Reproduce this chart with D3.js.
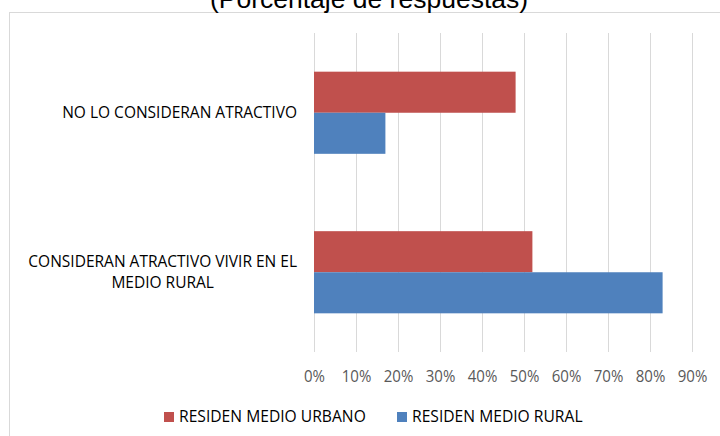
<!DOCTYPE html>
<html>
<head>
<meta charset="utf-8">
<script src="https://cdn.jsdelivr.net/npm/d3@7"></script>
<style>
  body { margin: 0; background: #fff; }
  svg { display: block; }
</style>
</head>
<body>
<svg></svg>
<script>
// data
var categories = ["NO LO CONSIDERAN ATRACTIVO", "CONSIDERAN ATRACTIVO VIVIR EN EL MEDIO RURAL"];
var labelLines = [["NO LO CONSIDERAN ATRACTIVO"], ["CONSIDERAN ATRACTIVO VIVIR EN EL", "MEDIO RURAL"]];
var seriesNames = ["RESIDEN MEDIO URBANO", "RESIDEN MEDIO RURAL"];
var urbano = [48, 52];
var rural = [17, 83];
var xTicks = [0, 10, 20, 30, 40, 50, 60, 70, 80, 90];
var title = "(Porcentaje de respuestas)";

var width = 720;
var height = 436;
var colors = ["#C0504D", "#4F81BD"];
var font = "'Open Sans', sans-serif";

var svg = d3.select("svg").attr("width", width).attr("height", height);

// chart frame (runs off the right and bottom edges)
svg.append("rect")
  .attr("x", 9.5).attr("y", 12.5)
  .attr("width", 740).attr("height", 460)
  .attr("fill", "#fff")
  .attr("stroke", "#d9d9d9");

svg.append("text")
  .attr("x", 369).attr("y", 8)
  .attr("text-anchor", "middle")
  .attr("font-family", "'Liberation Sans', Arial, sans-serif")
  .attr("font-size", 26.5)
  .attr("fill", "#000")
  .text(title);

var xScale = d3.scaleLinear().domain([0, 90]).range([314, 692]);
var yScale = d3.scaleBand().domain(categories).range([33, 352]).paddingInner(0.485).paddingOuter(0.2425);
var ySub = d3.scaleBand().domain(seriesNames).range([0, yScale.bandwidth()]);

// gridlines
svg.append("g")
  .selectAll("line")
  .data(xTicks)
  .enter()
  .append("line")
  .attr("x1", (d) => Math.round(xScale(d)) + 0.5)
  .attr("x2", (d) => Math.round(xScale(d)) + 0.5)
  .attr("y1", 33)
  .attr("y2", 352)
  .attr("stroke", "#d9d9d9");

// bars
var series = [urbano, rural];
series.forEach((vals, s) => {
  svg.append("g")
    .selectAll("rect")
    .data(vals)
    .enter()
    .append("rect")
    .attr("x", xScale(0))
    .attr("y", (d, i) => yScale(categories[i]) + ySub(seriesNames[s]))
    .attr("width", (d) => xScale(d) - xScale(0))
    .attr("height", ySub.bandwidth())
    .attr("fill", colors[s]);
});

// x axis labels
var xAxis = d3.axisBottom(xScale)
  .tickValues(xTicks)
  .tickSize(0)
  .tickPadding(0)
  .tickFormat((d) => d + "%");
var gx = svg.append("g")
  .attr("transform", "translate(0, 382)")
  .call(xAxis);
gx.select(".domain").remove();
gx.selectAll("text")
  .attr("dy", 0)
  .attr("y", 0)
  .attr("font-family", font)
  .attr("font-size", 16.5)
  .attr("fill", "#595959")
  .attr("transform", "scale(0.91,1)");

// category labels: block right-aligned, lines centred within block
categories.forEach((c, i) => {
  var lines = labelLines[i];
  var cy = yScale(c) + yScale.bandwidth() / 2;
  var g = svg.append("g");
  var texts = g.selectAll("text")
    .data(lines)
    .enter()
    .append("text")
    .attr("font-family", font)
    .attr("font-size", 15.5)
    .attr("fill", "#000")
    .attr("text-anchor", "middle")
    .attr("dy", "0.36em")
    .text((d) => d);
  var maxW = 0;
  texts.each(function () { maxW = Math.max(maxW, this.getComputedTextLength()); });
  var right = 297;
  texts
    .attr("x", right - maxW / 2)
    .attr("y", (d, j) => cy + (j - (lines.length - 1) / 2) * 21.3);
});

// legend
var lx = [164, 397];
seriesNames.forEach((n, i) => {
  var item = svg.append("g").attr("transform", "translate(" + lx[i] + ", 422)");
  item.append("rect")
    .attr("x", 0).attr("y", -10)
    .attr("width", 10).attr("height", 10)
    .attr("fill", colors[i]);
  item.append("text")
    .attr("x", 0).attr("y", 0)
    .attr("transform", "translate(15,0) scale(0.92,1)")
    .attr("font-family", font)
    .attr("font-size", 17)
    .attr("fill", "#000")
    .text(n);
});
</script>
</body>
</html>
